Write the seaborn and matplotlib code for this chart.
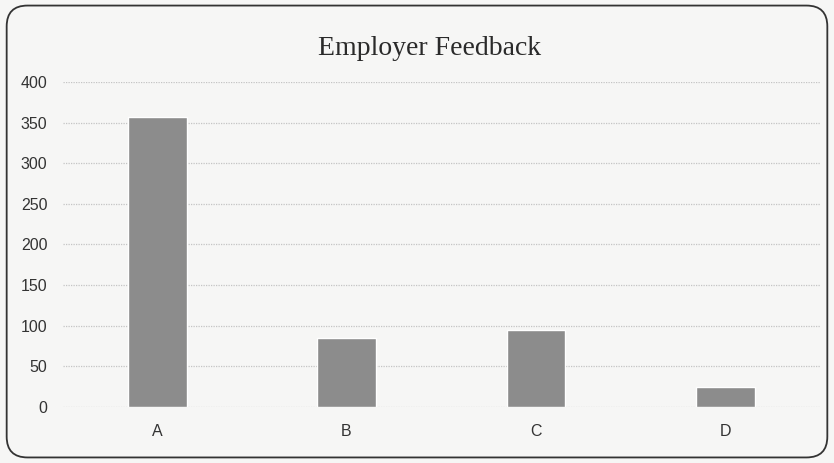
import matplotlib
matplotlib.use("Agg")
import matplotlib.pyplot as plt
import seaborn as sns
import pandas as pd
from matplotlib.patches import FancyBboxPatch

# data
categories = ["A", "B", "C", "D"]
responses = [357, 85, 95, 25]
y_ticks = [0, 50, 100, 150, 200, 250, 300, 350, 400]

df = pd.DataFrame({"category": categories, "count": responses})

sns.set_style("white")
plt.rcParams["font.family"] = ["Liberation Sans", "DejaVu Sans"]

fig = plt.figure(figsize=(8.34, 4.63), dpi=100)
fig.patch.set_facecolor("#f6f6f5")

# rounded chart border
border = FancyBboxPatch((0.008, 0.012), 0.984, 0.976,
                        boxstyle="round,pad=0,rounding_size=0.025",
                        transform=fig.transFigure, fill=False,
                        edgecolor="#333333", linewidth=1.3, mutation_aspect=1.8)
fig.patches.append(border)

ax = fig.add_axes([0.075, 0.121, 0.908, 0.702])
ax.set_facecolor("none")
sns.barplot(data=df, x="category", y="count", color="#8c8c8c", width=0.31,
            saturation=1, ax=ax)

ax.set_ylim(0, 400)
ax.set_xlim(-0.5, 3.5)
ax.set_yticks(y_ticks)
ax.yaxis.grid(True, color="#c4c4c4", linestyle=(0, (1, 1)), linewidth=0.9)
ax.set_axisbelow(True)
for s in ax.spines.values():
    s.set_visible(False)
ax.tick_params(axis="both", length=0, labelsize=11.5, colors="#333333")
ax.tick_params(axis="y", pad=11)
ax.tick_params(axis="x", pad=12)
ax.set_xlabel("")
ax.set_ylabel("")

fig.text(0.515, 0.895, "Employer Feedback", ha="center", va="center",
         fontsize=20, family=["Liberation Serif", "DejaVu Serif"], color="#2a2a2a")

fig.savefig("out.png", dpi=100, facecolor=fig.get_facecolor())
